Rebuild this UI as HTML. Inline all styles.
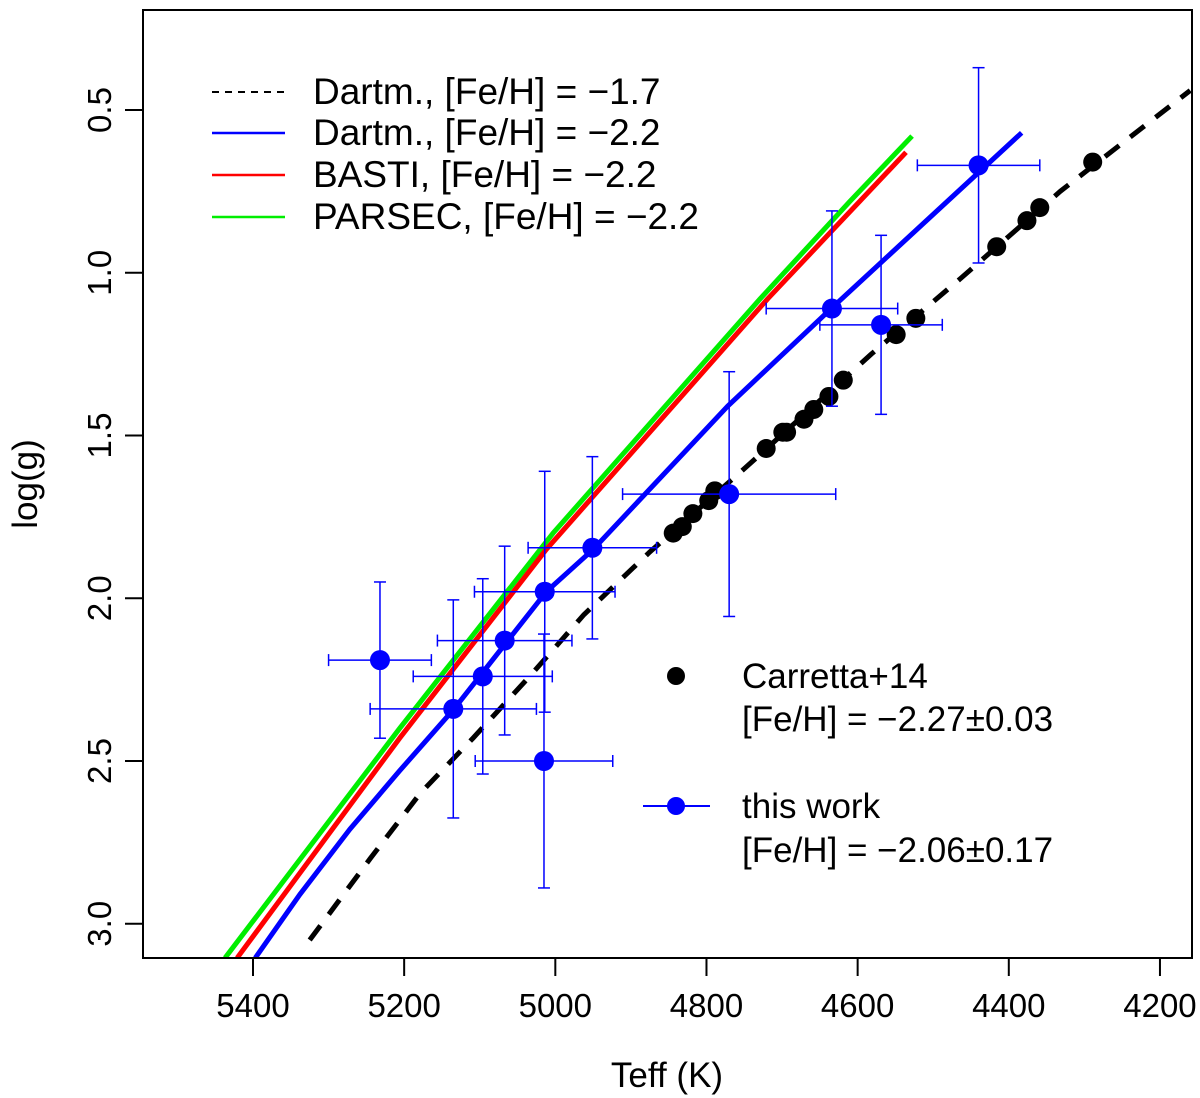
<!DOCTYPE html>
<html><head><meta charset="utf-8"><style>
html,body{margin:0;padding:0;background:#fff;}
svg{display:block;font-family:"Liberation Sans",Arial,sans-serif;}
</style></head><body>
<svg id="chart" width="1200" height="1098" viewBox="0 0 1200 1098" xmlns="http://www.w3.org/2000/svg">
<defs><clipPath id="clip"><rect x="143" y="10" width="1049" height="948"/></clipPath></defs>
<g id="plot" clip-path="url(#clip)"></g>
<rect x="143" y="10" width="1049" height="948" fill="none" stroke="#000" stroke-width="2"/>
<g id="axes"></g>
<text x="667" y="1087" font-size="35" text-anchor="middle">Teff (K)</text>
<text transform="translate(37,484) rotate(-90)" font-size="35" text-anchor="middle">log(g)</text>
<g>
<line x1="212" y1="92" x2="285" y2="92" stroke="#000" stroke-width="2" stroke-dasharray="7,6"/>
<text x="313" y="104" font-size="37">Dartm., [Fe/H] = −1.7</text>
<line x1="212" y1="133" x2="285" y2="133" stroke="#0000ff" stroke-width="2.5"/>
<text x="313" y="145" font-size="37">Dartm., [Fe/H] = −2.2</text>
<line x1="212" y1="175" x2="285" y2="175" stroke="#ff0000" stroke-width="2.5"/>
<text x="313" y="187" font-size="37">BASTI, [Fe/H] = −2.2</text>
<line x1="212" y1="217" x2="285" y2="217" stroke="#00ee00" stroke-width="2.5"/>
<text x="313" y="229" font-size="37">PARSEC, [Fe/H] = −2.2</text>
</g>
<g>
<circle cx="676" cy="676" r="9" fill="#000"/>
<text x="742" y="688" font-size="35">Carretta+14</text>
<text x="742" y="731" font-size="35">[Fe/H] = −2.27±0.03</text>
<line x1="643" y1="806" x2="710" y2="806" stroke="#0000ff" stroke-width="2"/>
<circle cx="676" cy="806" r="9" fill="#0000ff"/>
<text x="742" y="818" font-size="35">this work</text>
<text x="742" y="862" font-size="35">[Fe/H] = −2.06±0.17</text>
</g>
</svg>
<script>
const xTicks=[5400,5200,5000,4800,4600,4400,4200];
const yTicks=[0.5,1.0,1.5,2.0,2.5,3.0];
const yTickLabels=["0.5","1.0","1.5","2.0","2.5","3.0"];
const dartm17T=[5325,5245,5179,5109,5034,4962,4876,4749,4582,4465,4332,4160];
const dartm17G=[3.05,2.80,2.60,2.43,2.24,2.05,1.86,1.60,1.25,1.02,0.75,0.44];
const dartm22T=[5397,5338,5272,5206,5134,5012,4950,4772,4635,4383];
const dartm22G=[3.105,2.91,2.71,2.53,2.34,1.98,1.85,1.41,1.11,0.57];
const bastiT=[5421,5206,5012,4719,4536];
const bastiG=[3.105,2.43,1.85,1.08,0.63];
const parsecT=[5437,5206,5003,4729,4610,4528];
const parsecG=[3.105,2.40,1.80,1.08,0.78,0.58];
const carT=[4289,4359,4376,4416,4523,4549,4619,4638,4658,4671,4694,4699,4721,4789,4797,4818,4832,4844];
const carG=[0.66,0.80,0.84,0.92,1.14,1.19,1.33,1.38,1.42,1.45,1.49,1.49,1.54,1.67,1.70,1.74,1.78,1.80];
const workT=[4440,4634,4569,4770,4951,5014,5067,5096,5232,5135,5015];
const workG=[0.67,1.11,1.16,1.68,1.845,1.98,2.13,2.24,2.19,2.34,2.50];
const workTerr=[81,87,81,141,85,93,89,92,68,110,91];
const workGerr=[0.30,0.30,0.275,0.376,0.28,0.37,0.29,0.30,0.24,0.335,0.39];

const NS="http://www.w3.org/2000/svg";
const sx=t=>253+(5400-t)*0.7558;
const sy=g=>110+(g-0.5)*325.5;
const plot=document.getElementById('plot');
const axes=document.getElementById('axes');
function mk(tag,attrs,parent){const e=document.createElementNS(NS,tag);for(const k in attrs)e.setAttribute(k,attrs[k]);parent.appendChild(e);return e;}

xTicks.forEach(t=>{
 const l=mk('line',{x1:sx(t),x2:sx(t),y1:958,y2:976,stroke:'#000','stroke-width':2},axes);
 
 
 const tx=mk('text',{x:sx(t),y:1017,'font-size':33,'text-anchor':'middle'},axes);
 tx.textContent=t;
 
 
});
yTicks.forEach((g,i)=>{
 const l=mk('line',{x1:125,x2:143,y1:sy(g),y2:sy(g),stroke:'#000','stroke-width':2},axes);
 
 
 const tx=mk('text',{transform:`translate(111,${sy(g)}) rotate(-90)`,'font-size':33,'text-anchor':'middle'},axes);
 tx.textContent=yTickLabels[i];
 
 
});
function line(T,G,color,dash,name){
 const p=mk('polyline',{points:T.map((t,i)=>sx(t)+','+sy(G[i])).join(' '),fill:'none',stroke:color,'stroke-width':5,'stroke-linejoin':'round'},plot);
 if(dash)p.setAttribute('stroke-dasharray',dash);
 
 
}
line(parsecT,parsecG,'#00ee00',null,'parsec-isochrone');
line(bastiT,bastiG,'#ff0000',null,'basti-isochrone');
line(dartm22T,dartm22G,'#0000ff',null,'dartm-22-isochrone');
line(dartm17T,dartm17G,'#000',"18,14",'dartm-17-isochrone');
carT.forEach((t,i)=>{
 const c=mk('circle',{cx:sx(t),cy:sy(carG[i]),r:9.5,fill:'#000'},plot);
 
 
});
workT.forEach((t,i)=>{
 const x=sx(t),y=sy(workG[i]);
 const x1=sx(t+workTerr[i]),x2=sx(t-workTerr[i]);
 const y1=sy(workG[i]-workGerr[i]),y2=sy(workG[i]+workGerr[i]);
 const g=mk('g',{stroke:'#0000ff','stroke-width':1.5},plot);
 
 
 mk('line',{x1:x1,x2:x2,y1:y,y2:y},g);
 mk('line',{x1:x1,x2:x1,y1:y-6,y2:y+6},g);
 mk('line',{x1:x2,x2:x2,y1:y-6,y2:y+6},g);
 mk('line',{x1:x,x2:x,y1:y1,y2:y2},g);
 mk('line',{x1:x-6,x2:x+6,y1:y1,y2:y1},g);
 mk('line',{x1:x-6,x2:x+6,y1:y2,y2:y2},g);
 const c=mk('circle',{cx:x,cy:y,r:10,fill:'#0000ff'},plot);
 
 
});
</script>
</body></html>
